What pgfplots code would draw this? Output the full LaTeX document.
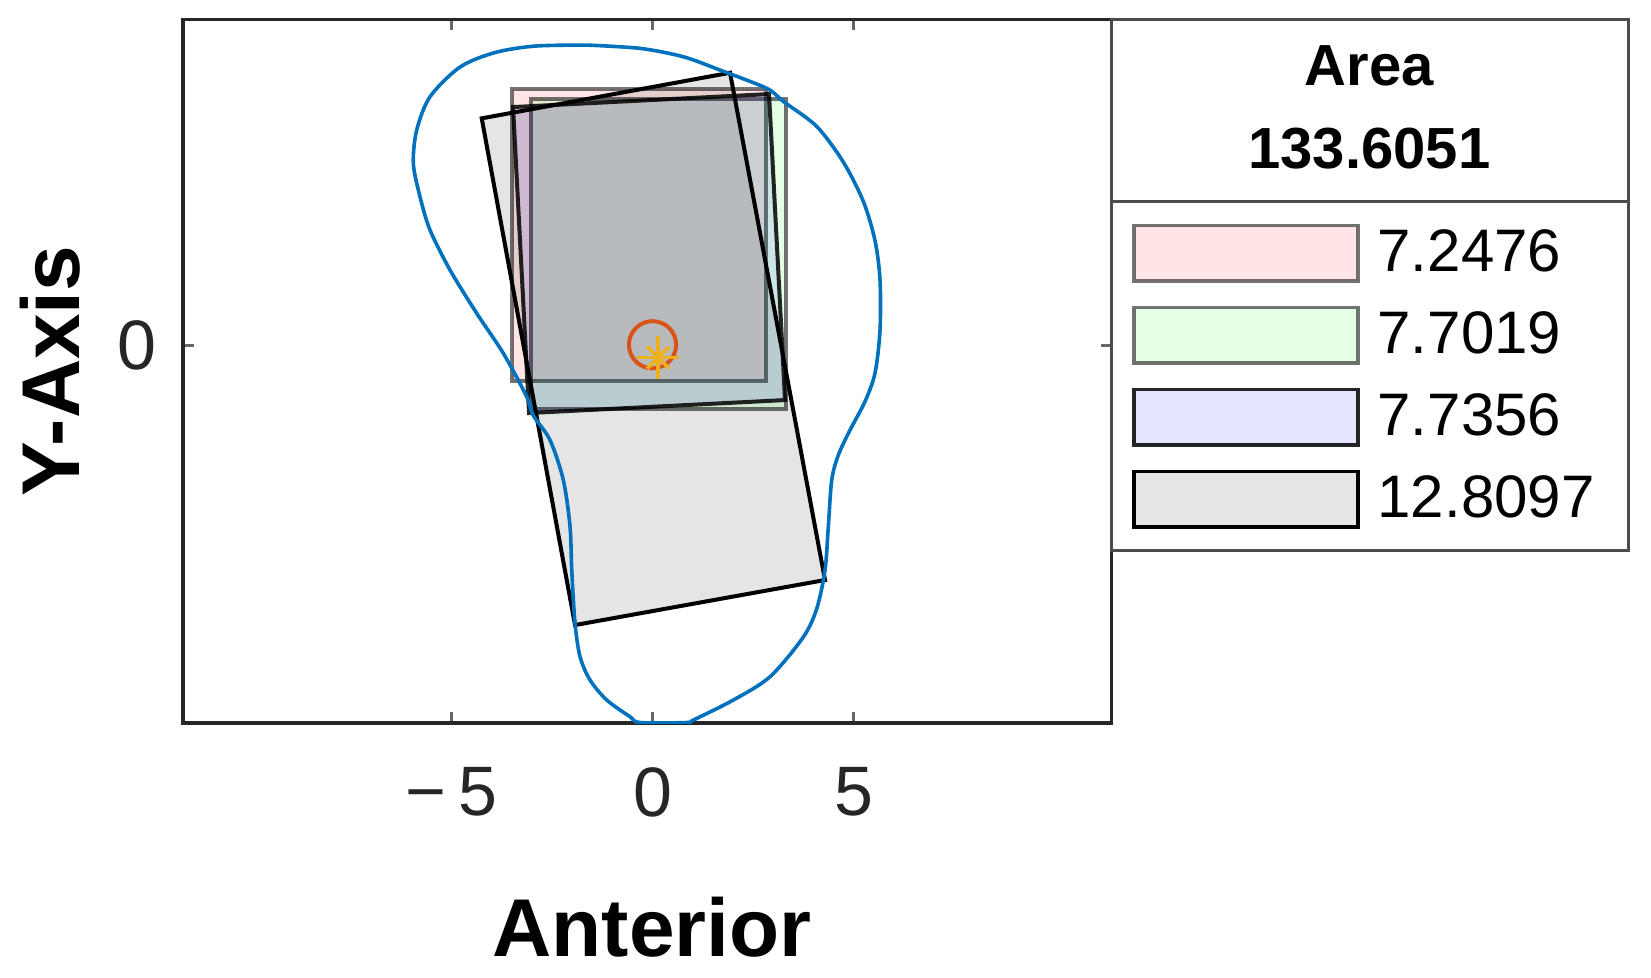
\documentclass[border=0pt]{standalone}
\usepackage{fontspec}
\setmainfont{Liberation Sans}
\usepackage{pgfplots}
\pgfplotsset{compat=1.18}

\definecolor{mblue}{rgb}{0,0.447,0.741}
\definecolor{morange}{rgb}{0.85,0.325,0.098}
\definecolor{myellow}{rgb}{0.929,0.694,0.125}
\definecolor{axgray}{rgb}{0.15,0.15,0.15}

\begin{document}
\begin{tikzpicture}
\useasboundingbox (-45.75pt,-63.5pt) rectangle (367pt,180.75pt);
\begin{axis}[
  at={(0,0)}, anchor=south west,
  x=10.05pt, y=10.05pt,
  xmin=-11.68, xmax=11.42, ymin=-9.39, ymax=8.12,
  axis line style={axgray, line width=0.8pt},
  tick align=inside, major tick length=2.75pt,
  tick style={axgray!70, line width=0.6pt},
  xtick={-5,0,5}, xticklabels={{−\,5},0,5},
  ytick={0}, yticklabels={0},
  tick label style={font=\fontsize{17.5}{20}\selectfont, text=axgray},
  xticklabel style={yshift=-7.55pt},
  yticklabel style={xshift=-3.05pt},
  xlabel={Anterior}, ylabel={Y-Axis},
  every axis x label/.style={at={(axis description cs:0.505,-0.3318)}, anchor=base,
    font=\fontsize{20.5}{24}\selectfont\bfseries},
  every axis y label/.style={at={(axis description cs:-0.1116,0.5)}, anchor=base, rotate=90,
    font=\fontsize{20.5}{24}\selectfont\bfseries},
  legend style={draw=none, fill=none, at={(axis description cs:1,0.7416)}, anchor=north west,
    inner xsep=4.9pt, inner ysep=5.5pt, row sep=5.75pt, column sep=4.5pt,
    nodes={inner sep=0pt, font=\fontsize{15}{16}\selectfont}},
  legend cell align=left,
  legend image code/.code={\draw[#1, line width=0.9pt] (0pt,-6.925pt) rectangle (56pt,6.925pt);},
]
% rectangles, MATLAB-style translucent fills
\addplot[fill=red, fill opacity=0.1, draw=black, draw opacity=0.55, line width=1pt]
  coordinates {(-3.495,6.393) (2.823,6.393) (2.823,-0.871) (-3.495,-0.871)} -- cycle;
\addplot[fill=green, fill opacity=0.1, draw=black, draw opacity=0.55, line width=1pt]
  coordinates {(-3.035,6.13) (3.321,6.13) (3.321,-1.57) (-3.035,-1.57)} -- cycle;
\addplot[fill=blue, fill opacity=0.1, draw=black, draw opacity=0.85, line width=1pt]
  coordinates {(-3.470,5.933) (2.898,6.256) (3.296,-1.356) (-3.072,-1.679)} -- cycle;
\addplot[fill=black, fill opacity=0.1, draw=black, line width=1pt]
  coordinates {(-4.249,5.652) (1.928,6.786) (4.291,-5.833) (-1.928,-6.953)} -- cycle;
\legend{7.2476,7.7019,7.7356,12.8097}

% outline
\addplot[mblue, line width=0.9pt, smooth, tension=0.5, forget plot] coordinates {
(-1.637,7.475) (-0.311,7.393) (0.766,7.184) (1.679,6.853) (2.841,6.398) (3.254,6.072)
(4.085,5.450) (4.746,4.565) (5.244,3.585) (5.535,2.607) (5.659,1.629) (5.659,0.386)
(5.535,-0.682) (5.286,-1.391) (4.913,-2.102) (4.622,-2.724) (4.458,-3.346) (4.373,-4.500)
(4.291,-5.585) (4.085,-6.545) (3.751,-7.251) (2.923,-8.239) (2.010,-8.818) (1.015,-9.316)
(0.851,-9.378) (-0.311,-9.378) (-0.560,-9.234) (-1.139,-8.818) (-1.555,-8.321) (-1.803,-7.741)
(-1.928,-6.910) (-2.010,-5.585) (-2.052,-4.507) (-2.219,-3.346) (-2.550,-2.351) (-2.973,-1.729)
(-3.129,-1.274) (-3.711,-0.194) (-4.373,0.801) (-5.037,1.878) (-5.535,2.873) (-5.784,3.701)
(-5.950,4.532) (-5.866,5.361) (-5.535,6.189) (-4.789,6.928) (-3.918,7.289) (-2.923,7.450)
(-1.637,7.475)};

% centre markers
\addplot[only marks, mark=o, mark size=5.9pt, morange, mark options={line width=1pt}, forget plot]
  coordinates {(0.0,0.02)};
\addplot[only marks, mark=+, mark size=5.3pt, myellow, mark options={line width=0.9pt}, forget plot]
  coordinates {(0.14,-0.30)};
\addplot[only marks, mark=x, mark size=3.9pt, myellow, mark options={line width=0.9pt}, forget plot]
  coordinates {(0.14,-0.30)};
\end{axis}

% legend frame and title
\draw[black!70, line width=0.75pt] (232.1pt,43.25pt) rectangle (361.25pt,176pt);
\draw[black!70, line width=0.75pt] (232.1pt,130.5pt) -- (361.25pt,130.5pt);
\node[font=\fontsize{14.5}{16}\selectfont\bfseries] at (296.6pt,164.25pt) {Area};
\node[font=\fontsize{14.5}{16}\selectfont\bfseries] at (296.6pt,143.7pt) {133.6051};
\end{tikzpicture}
\end{document}
